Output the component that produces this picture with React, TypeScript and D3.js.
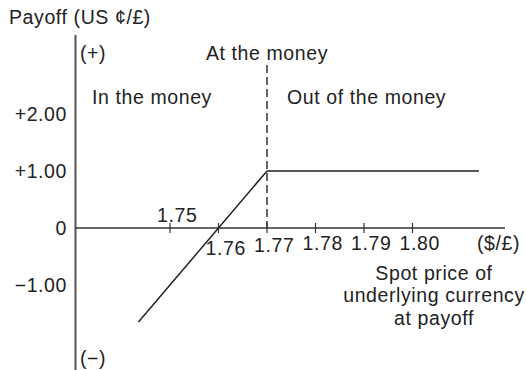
import React from "react";
import * as d3 from "d3";

const spot: number[] = [1.7435, 1.77, 1.8137];
const payoff: number[] = [-1.65, 1.0, 1.0];
const xTicks: number[] = [1.75, 1.76, 1.77, 1.78, 1.79, 1.8];
const xTickLabels: string[] = ["1.75", "1.76", "1.77", "1.78", "1.79", "1.80"];
const yTicks: number[] = [2, 1, 0, -1];
const yTickLabels: string[] = ["+2.00", "+1.00", "0", "\u22121.00"];
const strike = 1.77;

const W = 526;
const H = 370;
const FONT = "'Liberation Sans', Arial, Helvetica, sans-serif";
const TXT = "#222";

export default function App() {
  const x = d3.scaleLinear().domain([1.75, 1.8]).range([170, 412.5]);
  const y = d3.scaleLinear().domain([0, 1]).range([228, 171]);
  const axisX0 = 75.5;
  const axisX1 = 505;
  const y0 = y(0);
  const line = d3
    .line<number>()
    .x((_, i) => x(spot[i]))
    .y((d) => y(d));

  const fs = 19.5;
  const ls = 0.6;
  const T = (props: any) => (
    <text
      fontSize={fs}
      fill={TXT}
      letterSpacing={ls}
      dominantBaseline="central"
      {...props}
    />
  );
  return (
    <svg
      width={W}
      height={H}
      style={{ display: "block", background: "#fff", position: "fixed", left: 0, top: 0 }}
      fontFamily={FONT}
    >
      <line x1={axisX0} x2={axisX0} y1={35} y2={H} stroke="#555" strokeWidth={2} />
      <line x1={axisX0} x2={axisX1} y1={y0} y2={y0} stroke="#333" strokeWidth={1.5} />
      <line
        x1={x(strike)}
        x2={x(strike)}
        y1={65}
        y2={y0}
        stroke="#555"
        strokeWidth={1.8}
        strokeDasharray="8,4"
      />
      {xTicks.map((t, i) => (
        <line
          key={"t" + i}
          x1={x(t)}
          x2={x(t)}
          y1={y0 - 5}
          y2={y0 + 5}
          stroke="#333"
          strokeWidth={1.2}
        />
      ))}
      <path d={line(payoff) || ""} fill="none" stroke="#222" strokeWidth={1.5} />
      {xTicks.map((t, i) => (
        <T
          key={"xl" + i}
          x={x(t) - 13}
          y={i === 0 ? 215 : i === 1 ? 248 : i === 2 ? 245 : 243}
        >
          {xTickLabels[i]}
        </T>
      ))}
      {yTicks.map((t, i) => (
        <T key={"yl" + i} x={67} y={y(t)} textAnchor="end">
          {yTickLabels[i]}
        </T>
      ))}
      <T x={477} y={243}>($/£)</T>
      <T x={9} y={17}>Payoff (US ¢/£)</T>
      <T x={80} y={53}>(+)</T>
      <T x={80} y={358}>(−)</T>
      <T x={x(strike)} y={53} textAnchor="middle">At the money</T>
      <T x={92} y={97}>In the money</T>
      <T x={287} y={97}>Out of the money</T>
      <T x={434} y={273} textAnchor="middle">Spot price of</T>
      <T x={434} y={295} textAnchor="middle">underlying currency</T>
      <T x={434} y={318} textAnchor="middle">at payoff</T>
    </svg>
  );
}
